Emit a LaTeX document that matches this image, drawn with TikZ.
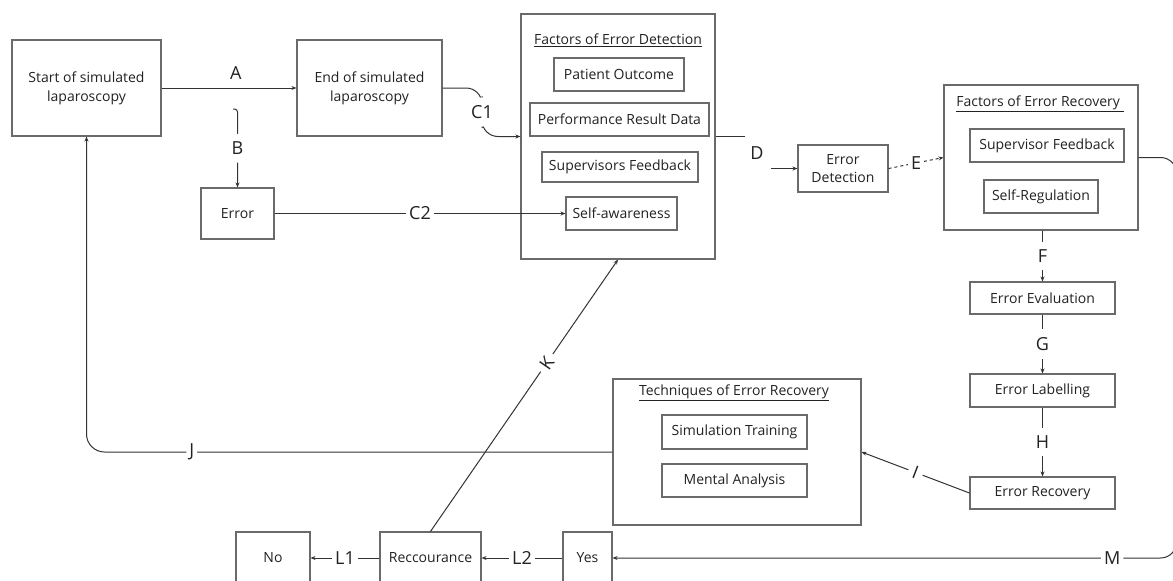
\documentclass[tikz,border=0pt]{standalone}
\usepackage{fontspec}
\setmainfont{Open Sans}
\usepackage{tikz}
\usetikzlibrary{arrows.meta}
\tikzset{>={Stealth[width=4pt,length=5pt]}}
\definecolor{boxgray}{HTML}{6A6A6A}
\definecolor{linegray}{HTML}{333333}
\definecolor{textgray}{HTML}{222222}
\tikzset{
  stagebox/.style={draw=boxgray, line width=1.1pt, fill=white, text=textgray,
    inner sep=0pt, align=center, font=\fontsize{14}{19}\selectfont},
  groupbox/.style={draw=boxgray, line width=1.1pt, inner sep=0pt},
  grouptitle/.style={text=textgray, inner sep=0pt, font=\fontsize{14}{17}\selectfont},
  lab/.style={fill=white, text=textgray, inner xsep=3pt, inner ysep=8pt,
    font=\fontsize{18}{18}\selectfont},
  flow/.style={draw=linegray, line width=1pt},
}

\begin{document}
\begin{tikzpicture}[x=1pt,y=-1pt]

\useasboundingbox (0,0) rectangle (1173,581); %% page size

%% first row
\node[stagebox, minimum width=149pt, minimum height=96pt] (start) at (86.5,88)
  {Start of simulated\\laparoscopy};
\node[stagebox, minimum width=145pt, minimum height=96pt] (endsim) at (369.5,88)
  {End of simulated\\laparoscopy};
\node[stagebox, minimum width=73pt, minimum height=51pt] (err) at (237.5,213.5) {Error};

%% factors of error detection
\node[groupbox, minimum width=194pt, minimum height=245pt] (detbox) at (618,136.5) {};
\node[grouptitle] (dettitle) at (618,40) {\underline{Factors of Error Detection}};
\node[stagebox, minimum width=130pt, minimum height=33pt] (patient) at (619,74.5) {Patient Outcome};
\node[stagebox, minimum width=179pt, minimum height=33pt] (perf) at (619.5,119.5) {Performance Result Data};
\node[stagebox, minimum width=156pt, minimum height=30pt] (supfb) at (620,167) {Supervisors Feedback};
\node[stagebox, minimum width=111pt, minimum height=33pt] (selfaw) at (621.5,213.5) {Self-awareness};

\node[stagebox, minimum width=90pt, minimum height=47pt] (errdet) at (843,168.5) {Error\\[-1pt]Detection};

%% factors of error recovery
\node[groupbox, minimum width=194pt, minimum height=145pt] (recbox) at (1041,157.5) {};
\node[grouptitle] (rectitle) at (1040,104) {\underline{Factors of Error Recovery\ }};
\node[stagebox, minimum width=154pt, minimum height=33pt] (supfbb) at (1047,145.5) {Supervisor Feedback};
\node[stagebox, minimum width=114pt, minimum height=33pt] (selfreg) at (1041,196.5) {Self-Regulation};

%% right column
\node[stagebox, minimum width=145pt, minimum height=32pt] (evalb) at (1042.5,298) {Error Evaluation};
\node[stagebox, minimum width=145pt, minimum height=33pt] (labelb) at (1042.5,390.5) {Error Labelling};
\node[stagebox, minimum width=145pt, minimum height=32pt] (recov) at (1042.5,493) {Error Recovery};

%% techniques of error recovery
\node[groupbox, minimum width=248pt, minimum height=146pt] (techbox) at (737,452) {};
\node[grouptitle] (techtitle) at (734,393) {\underline{Techniques of Error Recovery}};
\node[stagebox, minimum width=145pt, minimum height=34pt] (simtr) at (734.5,432) {Simulation Training};
\node[stagebox, minimum width=145pt, minimum height=33pt] (mental) at (734.5,480.5) {Mental Analysis};

%% bottom row
\node[stagebox, minimum width=74pt, minimum height=52pt] (nob) at (273,558) {No};
\node[stagebox, minimum width=101pt, minimum height=52pt] (recc) at (430.5,558) {Reccourance};
\node[stagebox, minimum width=49pt, minimum height=52pt] (yesb) at (587.5,558) {Yes};

%% connectors
\draw[flow,->] (start.east) -- node[lab, above, pos=0.55]{A} (endsim.west);

\coordinate (bhook) at (233,109);
\draw[flow,->,rounded corners=3pt] (bhook) -| node[lab, pos=0.75]{B} (err.north);

\coordinate (cmid) at (482,112);
\draw[flow,->,rounded corners=16pt] (endsim.east) -| (cmid) node[lab]{C1} |- (detbox.west);

\draw[flow,->] (err.east) -- node[lab]{C2} (selfaw.west);

\coordinate (dstub) at (745,136.5);
\coordinate (dtail) at (771,168.5);
\draw[flow] (detbox.east) -- (dstub);
\node[lab] (labD) at (757,153) {D};
\draw[flow,->] (dtail) -- (errdet.west);

\draw[flow,->,dashed] (errdet.east) -- node[lab, inner ysep=2pt]{E} (recbox.west);

\draw[flow,->] (recbox.south -| evalb.north) -- node[lab]{F} (evalb.north);
\draw[flow,->] (evalb.south) -- node[lab]{G} (labelb.north);
\draw[flow,->] (labelb.south) -- node[lab]{H} (recov.north);

\draw[flow,->] (recov.west) -- node[lab, sloped, inner xsep=5pt]{I} (techbox.east);

\draw[flow,->,rounded corners=18pt] (techbox.west) -| node[lab, pos=0.4]{J} (start.south);

\draw[flow,->] (recc.north) -- node[lab, sloped, inner xsep=5pt, pos=0.62]{K} (detbox.south);

\draw[flow,->] (recc.west) -- node[lab]{L1} (nob.east);
\draw[flow,->] (yesb.west) -- node[lab]{L2} (recc.east);

\draw[flow,->,rounded corners=16pt] (recbox.east) -- ++(38,0) |- node[lab, pos=0.557]{M} (yesb.east);

\end{tikzpicture}
\end{document}
